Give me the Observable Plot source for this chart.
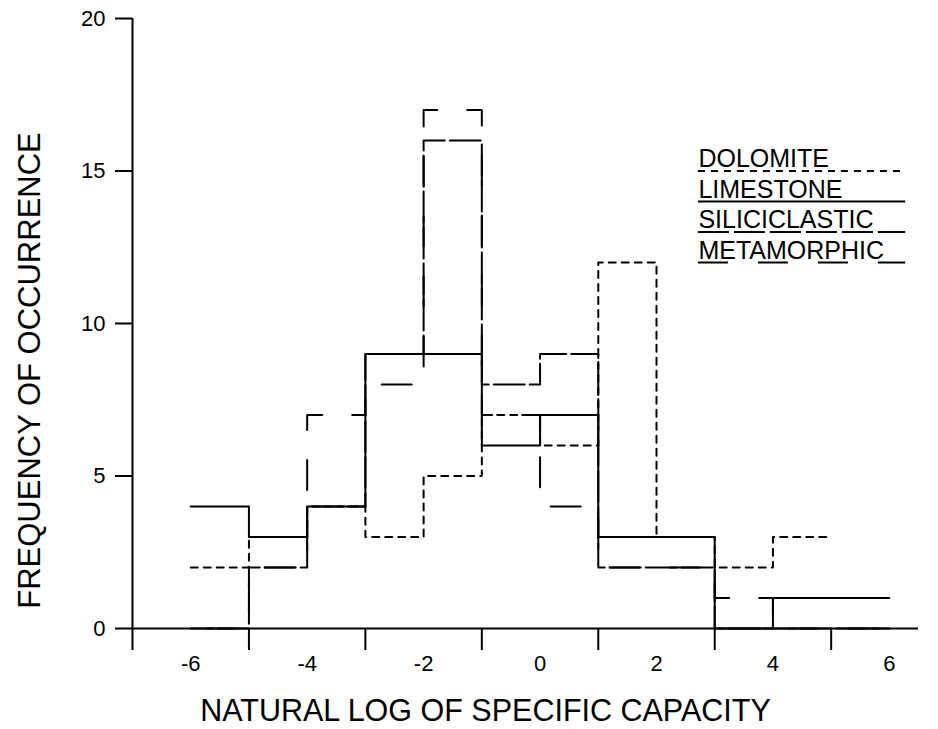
<!DOCTYPE html>
<html><head><meta charset="utf-8">
<script src="https://cdn.jsdelivr.net/npm/d3@7"></script>
<script src="https://cdn.jsdelivr.net/npm/@observablehq/plot@0.6"></script>
<style>body{margin:0;background:#fff;} #chart svg{display:block;}</style>
</head><body><div id="chart"></div>
<script>
// Bin left edges (natural log of specific capacity), bins of width 1
const binStarts = [-6, -5, -4, -3, -2, -1, 0, 1, 2, 3, 4, 5];
// Frequencies per bin
const dolomite      = [2, 3, 4, 3, 5, 7, 6, 12, 3, 2, 3];
const limestone     = [4, 3, 4, 9, 9, 6, 7, 3, 3, 0, 1, 1];
const siliciclastic = [0, 2, 4, 9, 16, 8, 9, 2, 2, 0, 0, 0];
const metamorphic   = [0, 2, 7, 8, 17, 7, 4, 2, 2, 1, 0, 0];
const seriesNames = ["DOLOMITE", "LIMESTONE", "SILICICLASTIC", "METAMORPHIC"];
const xTickValues = [-7, -5, -3, -1, 1, 3, 5];
const xLabelValues = [-6, -4, -2, 0, 2, 4, 6];
const yTickValues = [0, 5, 10, 15, 20];
const xTitle = "NATURAL LOG OF SPECIFIC CAPACITY";
const yTitle = "FREQUENCY OF OCCURRENCE";

const seriesValues = [dolomite, limestone, siliciclastic, metamorphic];
const dashes = ["7,6", null, "31,5", "30,30"];
const dashOffsets = [0, 0, 9, 45];

function stepPoints(vals) {
  const pts = vals.map((v, i) => ({x: binStarts[i], y: v}));
  pts.push({x: binStarts[vals.length - 1] + 1, y: vals[vals.length - 1]});
  return pts;
}

const font = "'Liberation Sans', Arial, Helvetica, sans-serif";
const marks = [];

seriesValues.forEach((vals, i) => {
  marks.push(Plot.line(stepPoints(vals), {
    x: "x", y: "y", curve: "step-after",
    stroke: "black", strokeWidth: 2,
    strokeDasharray: dashes[i], strokeDashoffset: dashOffsets[i]
  }));
});

// Legend (text with styled underline)
const legX1 = 2.72, legX2 = 6.28, legY0 = 15;
seriesNames.forEach((name, i) => {
  marks.push(Plot.text([name], {
    x: legX1, y: legY0 - i, text: d => d,
    textAnchor: "start", lineAnchor: "bottom", dy: -4,
    fontSize: 25, fill: "black"
  }));
  marks.push(Plot.ruleY([legY0 - i], {
    x1: legX1, x2: legX2, stroke: "black", strokeWidth: 2,
    strokeDasharray: dashes[i]
  }));
});

// Axes
const fmt = d => String(d);
marks.push(Plot.ruleY([0], {stroke: "black", strokeWidth: 2}));
marks.push(Plot.ruleX([-7], {y1: 0, y2: 20, stroke: "black", strokeWidth: 2}));
marks.push(Plot.axisX(xTickValues, {tickSize: 22, tickFormat: () => "", strokeWidth: 2, stroke: "black", label: null}));
marks.push(Plot.axisX(xLabelValues, {tickSize: 0, tickPadding: 27, fontSize: 22, fill: "black", tickFormat: fmt, label: null}));
marks.push(Plot.axisY(yTickValues, {tickSize: 17, tickPadding: 10, fontSize: 22, fill: "black", strokeWidth: 2, stroke: "black", tickFormat: fmt, label: null}));

// Axis titles
marks.push(Plot.text([xTitle], {frameAnchor: "bottom", textAnchor: "middle", text: d => d, dx: -40, dy: 92, fontSize: 30.5, fill: "black"}));
marks.push(Plot.text([yTitle], {frameAnchor: "left", textAnchor: "middle", text: d => d, rotate: -90, dx: -102, dy: 47, fontSize: 31, fill: "black"}));

const chart = Plot.plot({
  width: 938, height: 729,
  marginLeft: 132, marginRight: 20, marginTop: 18, marginBottom: 101,
  x: {domain: [-7, 6.5], axis: null},
  y: {domain: [0, 20], axis: null},
  style: {fontFamily: font, background: "white", color: "black", overflow: "visible"},
  marks
});
document.getElementById("chart").appendChild(chart);
</script>
</body></html>
